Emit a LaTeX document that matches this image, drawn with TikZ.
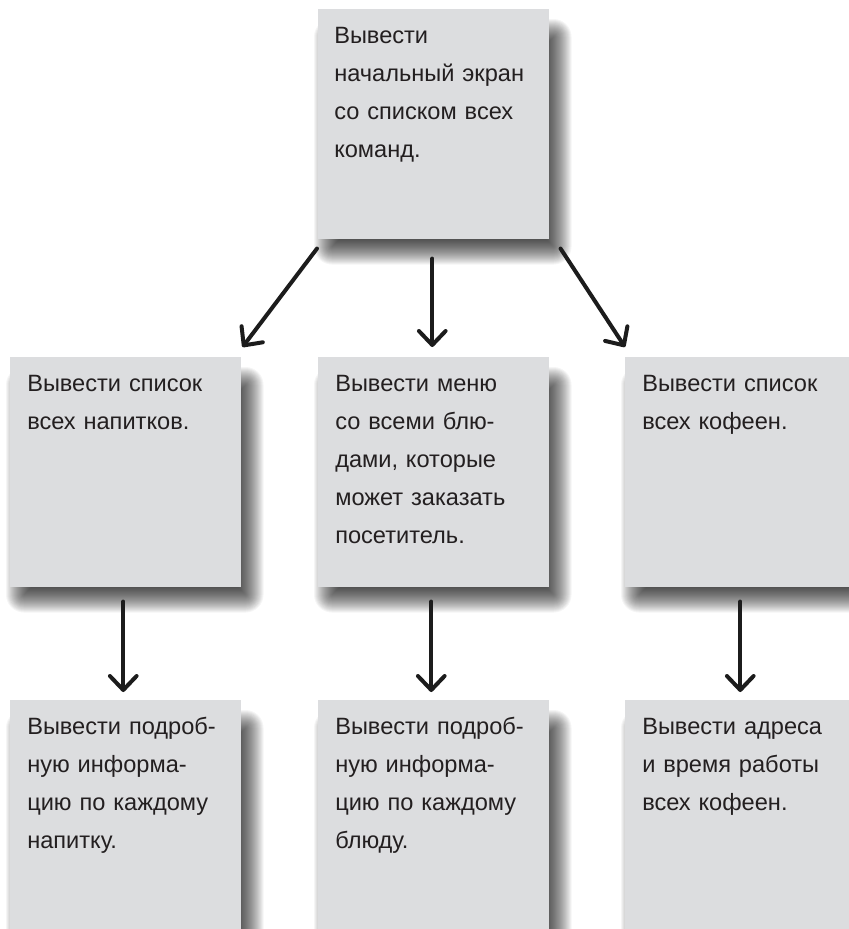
\documentclass[tikz,border=0pt]{standalone}
\usepackage{fontspec}
\setmainfont{Liberation Sans}
\usetikzlibrary{arrows.meta,calc}
\definecolor{boxgray}{RGB}{220,221,223}
\definecolor{ink}{RGB}{35,31,32}
\definecolor{arrowink}{RGB}{28,28,28}

\pgfdeclarelayer{shadowlayer}
\pgfsetlayers{shadowlayer,main}

% soft drop shadow under a card: stacked translucent rectangles
\newcommand\softshadow[1]{%
  \begin{pgfonlayer}{shadowlayer}
    \foreach \e in {18,17,...,-16}{%
      \pgfmathsetmacro\rc{max(\e,0.01)*0.75}%
      \fill[black, opacity=0.038, rounded corners=\rc pt]
        ($(#1.north west)+(14-\e,28-\e)$) rectangle ($(#1.south east)+(4+\e,7+\e)$);
    }
  \end{pgfonlayer}}

\begin{document}
\begin{tikzpicture}[x=0.75pt,y=-0.75pt,
  card/.style={fill=boxgray, draw=none, inner sep=0pt, anchor=north west,
    minimum width=173.25pt, minimum height=172.5pt},
  cardtext/.style={anchor=base west, inner sep=0pt, text width=170pt,
    align=left, text=ink, font=\fontsize{17.7pt}{28.5pt}\selectfont},
  flow/.style={draw=arrowink, line width=3pt, line cap=round,
    -{Straight Barb[length=10.5pt, width=20pt, round]}}
]
% page
\begin{pgfonlayer}{shadowlayer}
  \fill[white] (0,0) rectangle (849,929);
\end{pgfonlayer}
\useasboundingbox (0,0) rectangle (849,929);

% top card
\node[card] (start) at (318,9) {};
\node[cardtext] (startT) at ($(start.north west)+(16,34)$)
  {Вывести\\начальный экран\\со списком всех\\команд.};

% second row
\node[card] (drinks) at (10,357) {};
\node[cardtext] (drinksT) at ($(drinks.north west)+(17,34)$)
  {Вывести список\\всех напитков.};
\node[card] (menu) at (318,357) {};
\node[cardtext] (menuT) at ($(menu.north west)+(17,34)$)
  {Вывести меню\\со всеми блю-\\дами, которые\\может заказать\\посетитель.};
\node[card] (cafes) at (625,357) {};
\node[cardtext] (cafesT) at ($(cafes.north west)+(17,34)$)
  {Вывести список\\всех кофеен.};

% third row
\node[card] (drinkInfo) at (10,700) {};
\node[cardtext] (drinkInfoT) at ($(drinkInfo.north west)+(17,34)$)
  {Вывести подроб-\\ную информа-\\цию по каждому\\напитку.};
\node[card] (dishInfo) at (318,700) {};
\node[cardtext] (dishInfoT) at ($(dishInfo.north west)+(17,34)$)
  {Вывести подроб-\\ную информа-\\цию по каждому\\блюду.};
\node[card] (cafeInfo) at (625,700) {};
\node[cardtext] (cafeInfoT) at ($(cafeInfo.north west)+(17,34)$)
  {Вывести адреса\\и время работы\\всех кофеен.};

% shadows
\softshadow{start}
\softshadow{drinks}
\softshadow{menu}
\softshadow{cafes}
\softshadow{drinkInfo}
\softshadow{dishInfo}
\softshadow{cafeInfo}

% connectors
\draw[flow] ($(start.south west)+(-1,9)$) -- ($(drinks.north east)+(1,-10)$);
\draw[flow] ($(start.south)+(-1.5,19)$) -- ($(menu.north)+(-1.5,-10)$);
\draw[flow] ($(start.south east)+(11,9)$) -- ($(cafes.north west)+(0,-10)$);

\draw[flow] ($(drinks.south)+(-2.5,14)$) -- ($(drinkInfo.north)+(-2.5,-8)$);
\draw[flow] ($(menu.south)+(-2.5,14)$) -- ($(dishInfo.north)+(-2.5,-8)$);
\draw[flow] ($(cafes.south)+(-0.5,14)$) -- ($(cafeInfo.north)+(-0.5,-8)$);
\end{tikzpicture}
\end{document}
